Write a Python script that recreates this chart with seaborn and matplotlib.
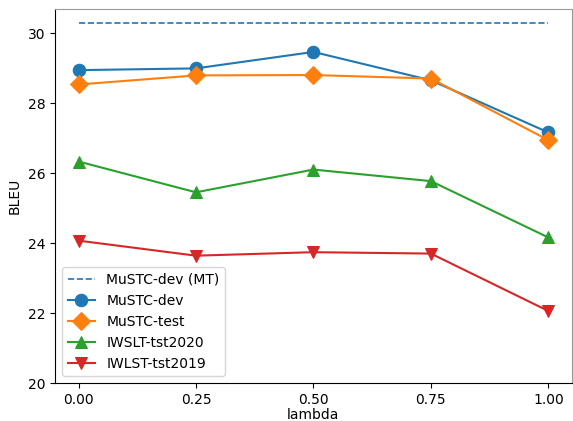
import pandas as pd
import matplotlib
matplotlib.use("Agg")
import matplotlib.pyplot as plt
import seaborn as sns

# lambda values on the x axis
lambdas = [0.0, 0.25, 0.5, 0.75, 1.0]
tick_labels = ["0.00", "0.25", "0.50", "0.75", "1.00"]

# BLEU scores
mt_dev = [30.28, 30.28]
mustc_dev = [28.94, 28.99, 29.46, 28.65, 27.16]
mustc_test = [28.53, 28.79, 28.80, 28.70, 26.94]
iwslt_2020 = [26.33, 25.45, 26.10, 25.77, 24.16]
iwlst_2019 = [24.07, 23.64, 23.74, 23.70, 22.06]

series = [
    ("MuSTC-dev", mustc_dev, "o", "C0"),
    ("MuSTC-test", mustc_test, "D", "C1"),
    ("IWSLT-tst2020", iwslt_2020, "^", "C2"),
    ("IWLST-tst2019", iwlst_2019, "v", "C3"),
]

fig, ax = plt.subplots(figsize=(5.73, 4.21), dpi=100)
fig.subplots_adjust(left=0.096, right=0.998, bottom=0.09, top=0.979)

sns.lineplot(x=[lambdas[0], lambdas[-1]], y=mt_dev, ax=ax, color="C0",
             linestyle="--", linewidth=1.2, label="MuSTC-dev (MT)")

for name, vals, mk, col in series:
    sns.lineplot(x=lambdas, y=vals, ax=ax, color=col, marker=mk,
                 markersize=9, markeredgecolor=col, linewidth=1.5, label=name)

ax.set_ylim(bottom=20)
ax.set_xticks(lambdas)
ax.set_xticklabels(tick_labels)
ax.set_xlabel("lambda", labelpad=1)
ax.set_ylabel("BLEU")
for side in ["top", "right"]:
    ax.spines[side].set_color("0.6")
ax.legend(loc="lower left")

fig.savefig("out.png", dpi=100)
